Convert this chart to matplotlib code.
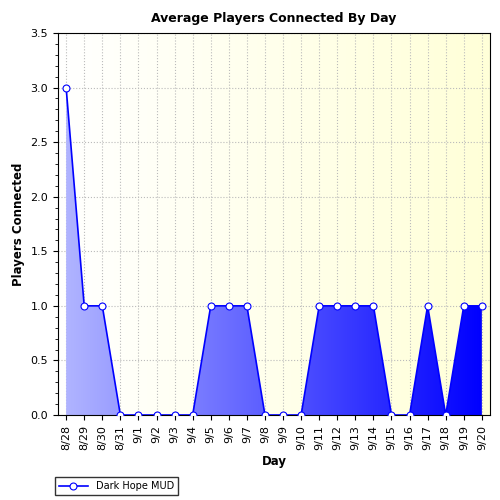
import matplotlib
matplotlib.use("Agg")
import matplotlib.pyplot as plt
import numpy as np
from matplotlib.colors import LinearSegmentedColormap

days = ["8/28", "8/29", "8/30", "8/31", "9/1", "9/2", "9/3", "9/4", "9/5", "9/6", "9/7",
        "9/8", "9/9", "9/10", "9/11", "9/12", "9/13", "9/14", "9/15", "9/16", "9/17",
        "9/18", "9/19", "9/20"]
players = [3, 1, 1, 0, 0, 0, 0, 0, 1, 1, 1, 0, 0, 0, 1, 1, 1, 1, 0, 0, 1, 0, 1, 1]

x = np.arange(len(days))
fig = plt.figure(figsize=(5, 5), dpi=100)
ax = fig.add_axes([0.116, 0.17, 0.864, 0.764])
xmin, xmax = -0.45, len(days) - 0.55

# background gradient (white -> light yellow)
bg = LinearSegmentedColormap.from_list("bg", ["#ffffff", "#ffffd8"])
grad = np.linspace(0, 1, 256).reshape(1, -1)
ax.imshow(grad, extent=[xmin, xmax, 0, 3.5], aspect="auto", cmap=bg, zorder=0)

# area fill with horizontal gradient
fill = ax.fill_between(x, players, 0, color="none", zorder=1)
fc = LinearSegmentedColormap.from_list("fc", ["#b0b4ff", "#0000ff"])
im = ax.imshow(grad, extent=[x[0], x[-1], 0, 3.5], aspect="auto", cmap=fc, zorder=1)
im.set_clip_path(fill.get_paths()[0], transform=ax.transData)
ax.set_xlim(xmin, xmax)
ax.set_ylim(0, 3.5)

ax.plot(x, players, color="#0000ff", lw=1.2, marker="o", ms=5, mfc="white",
        mec="#0000ff", mew=0.8, zorder=3, label="Dark Hope MUD")

ax.set_xticks(x)
ax.set_xticklabels(days, rotation=90, fontsize=8)
ax.set_yticks(np.arange(0, 3.6, 0.5))
ax.set_yticklabels([f"{v:.1f}" for v in np.arange(0, 3.6, 0.5)], fontsize=8)
ax.grid(True, color="#bbbbbb", linestyle=":", lw=0.8, zorder=0)
ax.set_axisbelow(True)
ax.set_yticks(np.arange(0, 3.5, 0.1), minor=True)
ax.tick_params(axis="y", which="minor", length=2)

ax.set_title("Average Players Connected By Day", fontsize=9, fontweight="bold", pad=8)
ax.set_xlabel("Day", fontsize=8.5, fontweight="bold")
ax.set_ylabel("Players Connected", fontsize=8.5, fontweight="bold")

fig.legend(loc="lower left", bbox_to_anchor=(0.1, 0.0), fontsize=7, frameon=True,
           fancybox=False, edgecolor="black", handlelength=3)

fig.savefig("out.png")
